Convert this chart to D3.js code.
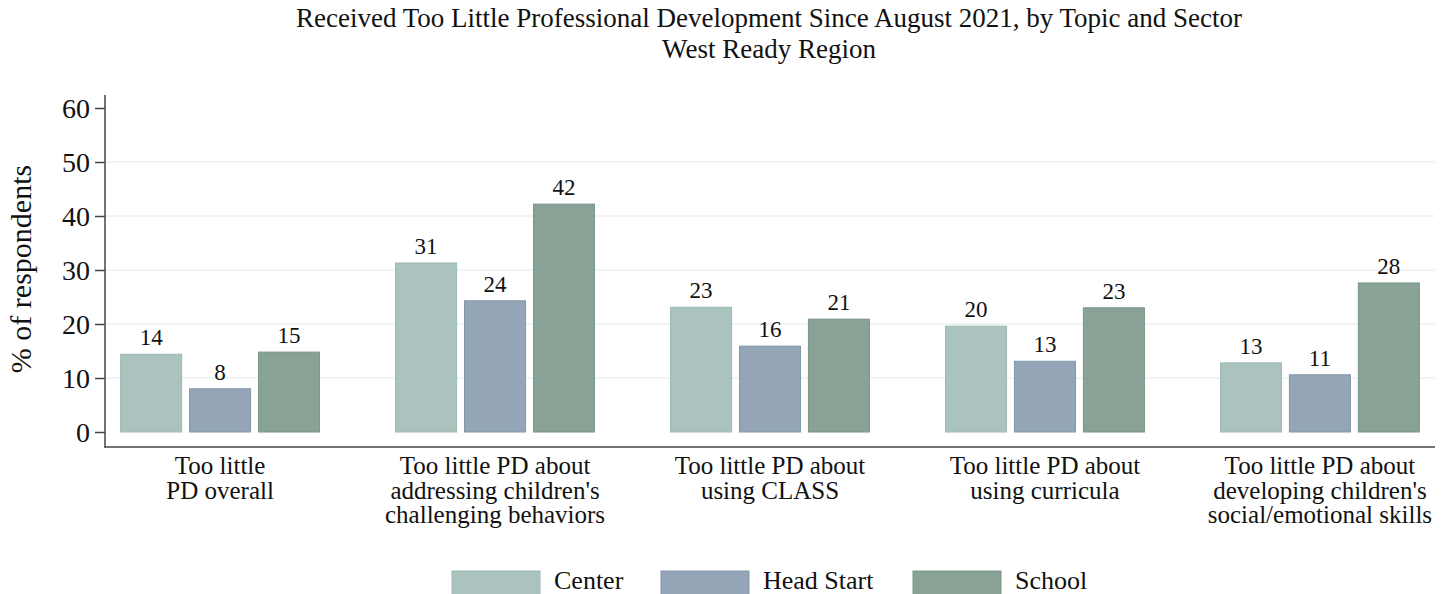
<!DOCTYPE html>
<html>
<head>
<meta charset="utf-8">
<script src="https://cdn.jsdelivr.net/npm/d3@7"></script>
<style>
  body { margin: 0; background: #fff; }
  text { font-family: "Liberation Serif", "Times New Roman", serif; fill: #111; }
</style>
</head>
<body>
<div id="chart"></div>
<script>
// chart data
const topics = [
  ["Too little", "PD overall"],
  ["Too little PD about", "addressing children's", "challenging behaviors"],
  ["Too little PD about", "using CLASS"],
  ["Too little PD about", "using curricula"],
  ["Too little PD about", "developing children's", "social/emotional skills"]
];
const sectors = ["Center", "Head Start", "School"];
const centerVals = [14.4, 31.3, 23.1, 19.6, 12.8];
const headStartVals = [8.0, 24.3, 15.9, 13.1, 10.6];
const schoolVals = [14.8, 42.2, 20.9, 23.0, 27.6];
const yTicks = [0, 10, 20, 30, 40, 50, 60];
const colors = ["#abc3be", "#93a5b6", "#89a296"];
const strokes = ["#9db8b2", "#8397aa", "#7b9589"];

const W = 1453, H = 594;
const svg = d3.select("#chart").append("svg")
  .attr("width", W).attr("height", H);

const x0 = d3.scaleBand()
  .domain(d3.range(topics.length))
  .range([105, 1435])
  .paddingInner(0.273)
  .paddingOuter(0.055);

const x1 = d3.scaleBand()
  .domain(sectors)
  .range([0, x0.bandwidth()])
  .paddingInner(0.1)
  .paddingOuter(0);

const y = d3.scaleLinear().domain([0, 60]).range([432, 108]);

// gridlines
svg.append("g")
  .selectAll("line")
  .data(yTicks.filter(d => d > 0 && d < 60))
  .enter().append("line")
  .attr("x1", 106).attr("x2", 1435)
  .attr("y1", d => y(d)).attr("y2", d => y(d))
  .attr("stroke", "#eaf1f3").attr("stroke-width", 1.5);

// y axis
const yAxis = svg.append("g")
  .attr("transform", "translate(105,0)")
  .call(d3.axisLeft(y).tickValues(yTicks).tickSize(10).tickPadding(5));
yAxis.select(".domain").attr("d", "M0,95V447").attr("stroke", "#444").attr("stroke-width", 1.5);
yAxis.selectAll(".tick line").attr("stroke", "#444").attr("stroke-width", 1.5);
yAxis.selectAll(".tick text").attr("font-size", 28).attr("fill", "#111")
  .attr("dy", "0.34em")
  .style("font-family", "'Liberation Serif', serif");

// bottom axis line
svg.append("line")
  .attr("x1", 104).attr("x2", 1435)
  .attr("y1", 447).attr("y2", 447)
  .attr("stroke", "#444").attr("stroke-width", 1.5);

const rows = topics.map((t, i) => ({
  i,
  vals: [centerVals[i], headStartVals[i], schoolVals[i]]
}));

const groups = svg.selectAll(".grp")
  .data(rows).enter().append("g")
  .attr("class", "grp")
  .attr("transform", d => `translate(${x0(d.i)},0)`);

groups.selectAll("rect")
  .data(d => d.vals.map((v, j) => ({ v, j })))
  .enter().append("rect")
  .attr("x", d => x1(sectors[d.j]) + 0.5)
  .attr("width", x1.bandwidth() - 1)
  .attr("y", d => y(d.v))
  .attr("height", d => y(0) - y(d.v))
  .attr("fill", d => colors[d.j])
  .attr("stroke", d => strokes[d.j])
  .attr("stroke-width", 1);

groups.selectAll(".val")
  .data(d => d.vals.map((v, j) => ({ v, j })))
  .enter().append("text")
  .attr("class", "val")
  .attr("x", d => x1(sectors[d.j]) + x1.bandwidth() / 2)
  .attr("y", d => y(d.v) - 9)
  .attr("text-anchor", "middle")
  .attr("font-size", 23)
  .text(d => d3.format(".0f")(d.v));

// category labels
groups.append("text")
  .attr("text-anchor", "middle")
  .attr("font-size", 25)
  .attr("x", x0.bandwidth() / 2)
  .attr("y", 474)
  .selectAll("tspan")
  .data(d => topics[d.i])
  .enter().append("tspan")
  .attr("x", x0.bandwidth() / 2)
  .attr("dy", (d, k) => k === 0 ? 0 : 24.5)
  .text(d => d);

// y axis title
svg.append("text")
  .attr("transform", "translate(31,269) rotate(-90)")
  .attr("text-anchor", "middle")
  .attr("font-size", 30)
  .text("% of respondents");

// title
svg.append("text")
  .attr("x", 769).attr("y", 27)
  .attr("text-anchor", "middle")
  .attr("font-size", 27)
  .text("Received Too Little Professional Development Since August 2021, by Topic and Sector");
svg.append("text")
  .attr("x", 769).attr("y", 58)
  .attr("text-anchor", "middle")
  .attr("font-size", 27)
  .text("West Ready Region");

// legend
const legendX = [452, 661, 913];
const legend = svg.selectAll(".legend")
  .data(sectors).enter().append("g")
  .attr("class", "legend")
  .attr("transform", (d, i) => `translate(${legendX[i]},571)`);
legend.append("rect")
  .attr("width", 88).attr("height", 26)
  .attr("fill", (d, i) => colors[i])
  .attr("stroke", (d, i) => strokes[i]);
legend.append("text")
  .attr("x", 102).attr("y", 18)
  .attr("font-size", 26)
  .text(d => d);
</script>
</body>
</html>
